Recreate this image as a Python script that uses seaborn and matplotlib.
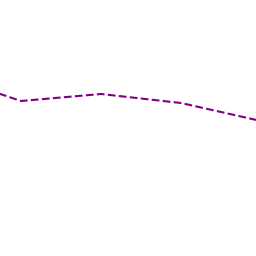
import matplotlib
matplotlib.use("Agg")
import matplotlib.pyplot as plt
import seaborn as sns
import pandas as pd

# данные линии
x_vals = [-1, 0, 1, 2, 3]
y_vals = [182, 155, 162, 153, 135]

df = pd.DataFrame({"x": x_vals, "y": y_vals})

sns.set_style("white")
fig = plt.figure(figsize=(2.56, 2.56), dpi=100)
ax = fig.add_axes([0, 0, 1, 1])

sns.lineplot(data=df, x="x", y="y", ax=ax, color="#800080",
             linestyle="--", linewidth=1.5)

ax.set_xlim(-0.2625, 2.9375)
ax.set_ylim(0, 256)
ax.axis("off")

fig.savefig("out.png", dpi=100, facecolor="white")
